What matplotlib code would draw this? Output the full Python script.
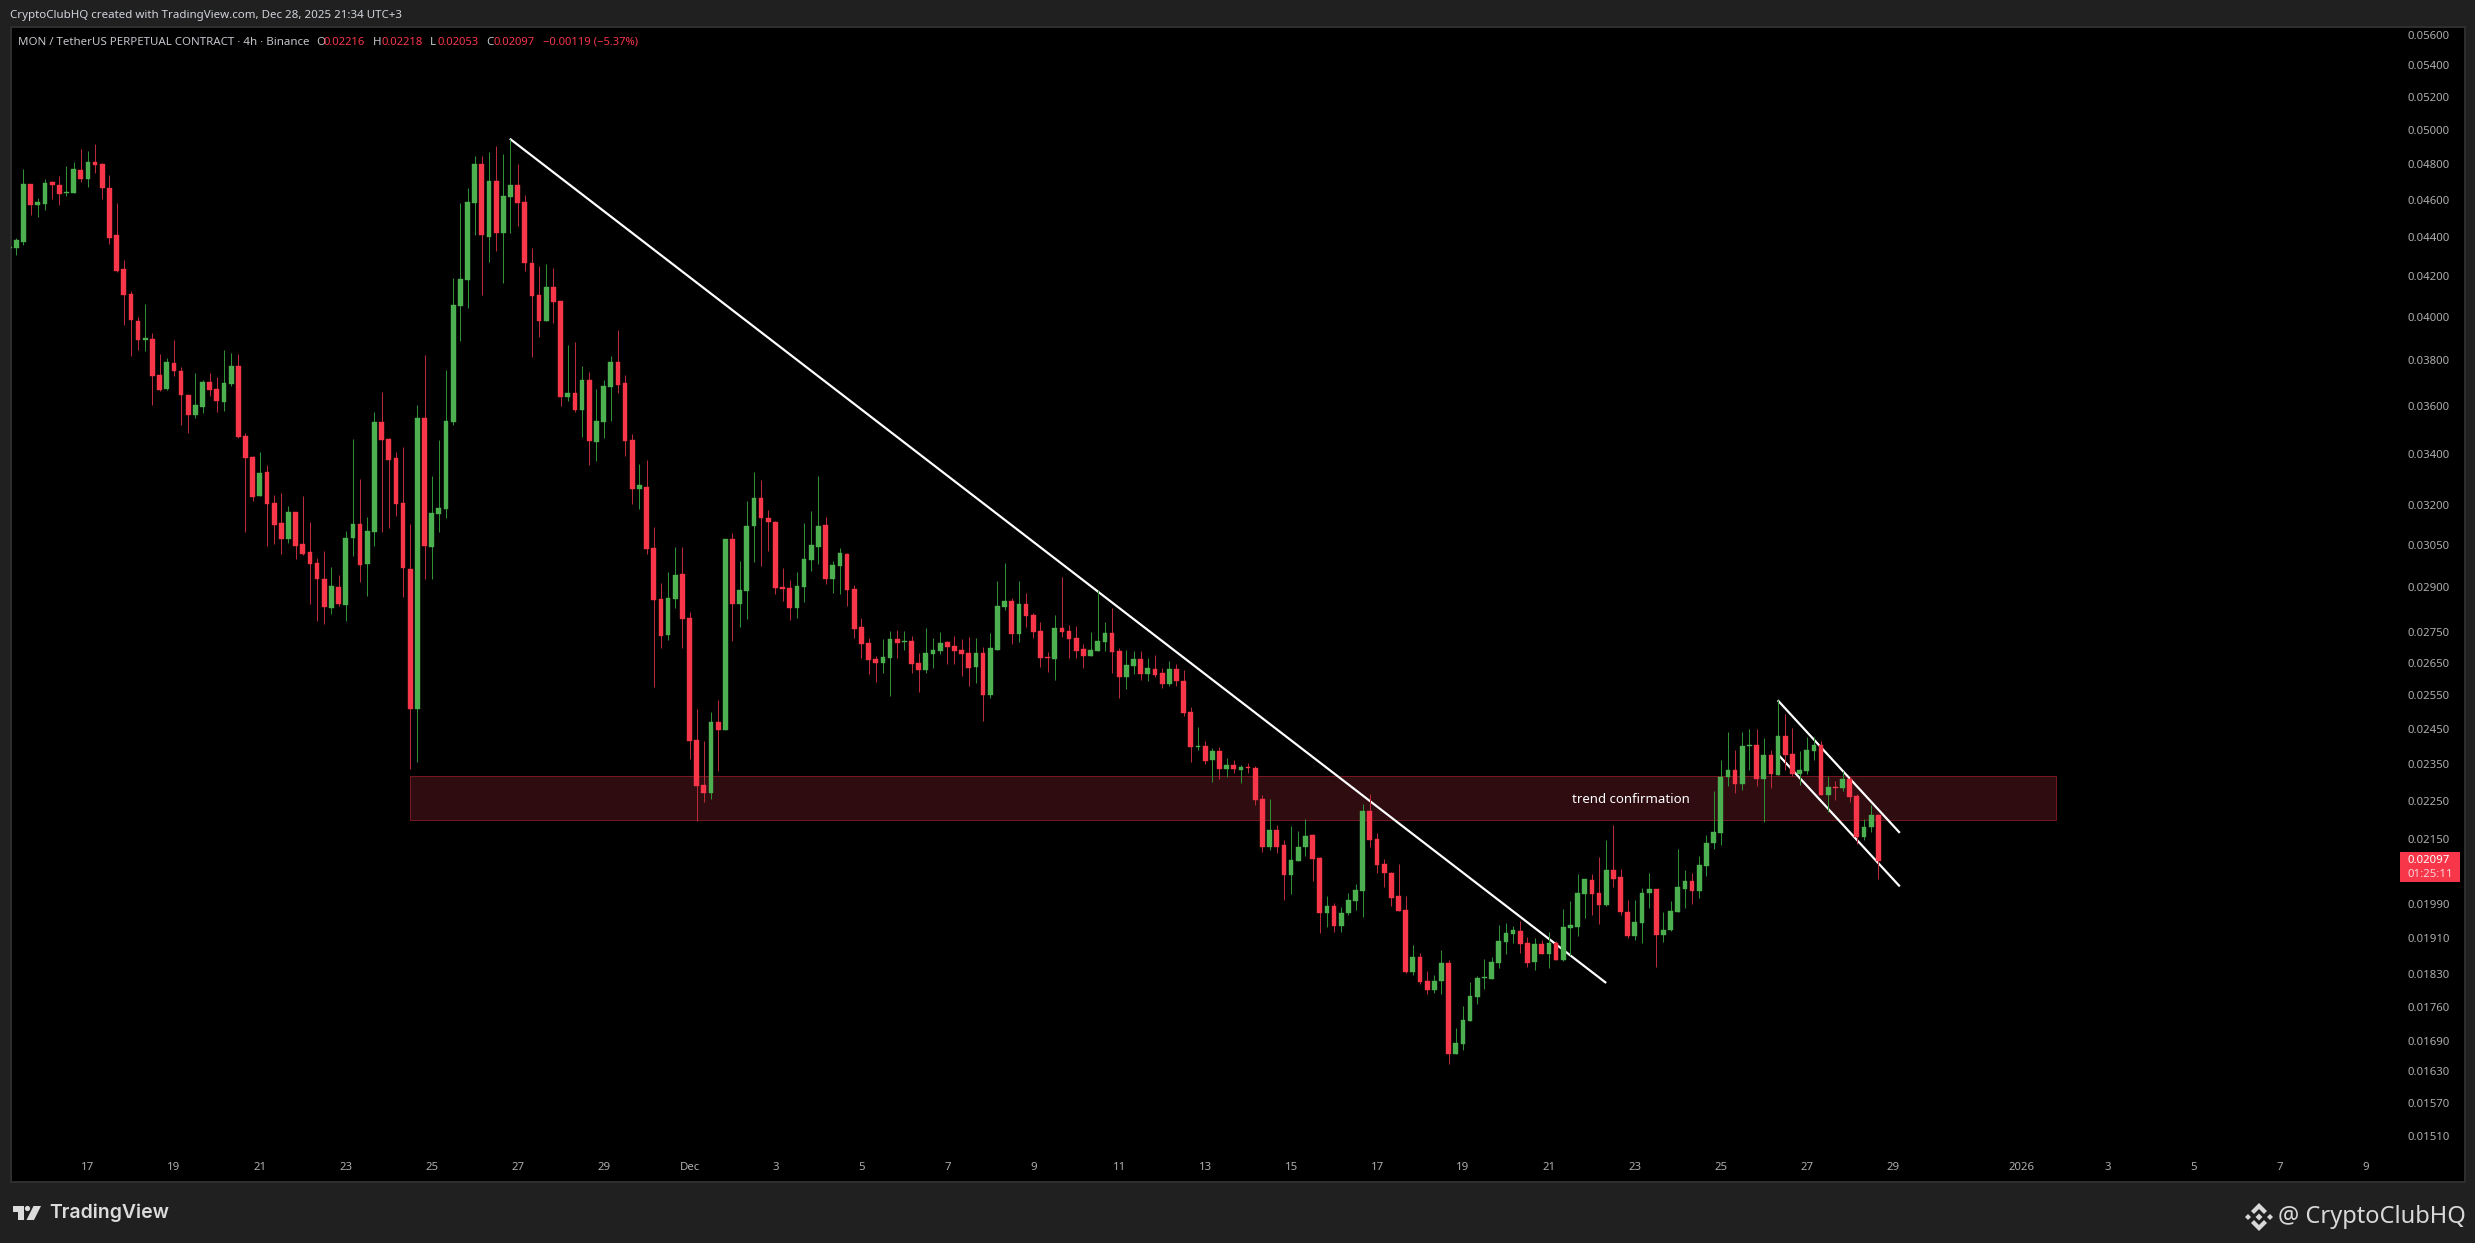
#!/usr/bin/env python3
"""MON/USDT perpetual 4h candles with hand drawn trendlines, TradingView dark style."""

import numpy as np
import matplotlib
matplotlib.use('Agg')
import matplotlib.pyplot as plt
from matplotlib.patches import Circle, Polygon, Rectangle
from matplotlib.ticker import NullLocator
from matplotlib.transforms import ScaledTranslation

# ── Data (prices in ticks of 0.00001) ────────────────────────────────────────

TICK = 0.00001

opens = [
  4352, 4353, 4385, 4698, 4581, 4587, 4710, 4693, 4648, 4648,
  4778, 4727, 4823, 4812, 4676, 4422, 4246, 4120, 3991, 3901,
  3906, 3742, 3679, 3796, 3760, 3653, 3568, 3602, 3711, 3679,
  3623, 3702, 3783, 3480, 3393, 3239, 3334, 3212, 3137, 3078,
  3178, 3059, 3030, 2991, 2935, 2835, 2907, 2845, 3082, 3133,
  2988, 3104, 3539, 3467, 3389, 3212, 2971, 2514, 3556, 3049,
  3172, 3190, 3539, 4062, 4191, 4591, 4812, 4411, 4711, 4432,
  4625, 4693, 4598, 4277, 4115, 3990, 4155, 4086, 3645, 3663,
  3590, 3720, 3455, 3539, 3688, 3800, 3706, 3464, 3266, 3276,
  3045, 2864, 2746, 2864, 2952, 2802, 2423, 2296, 2274, 2476,
  2452, 3078, 2850, 2892, 3124, 3231, 3154, 3142, 2906, 2903,
  2835, 2906, 3003, 3049, 3130, 2935, 2980, 3023, 2900, 2773,
  2718, 2667, 2655, 2671, 2732, 2722, 2726, 2655, 2634, 2684,
  2693, 2722, 2709, 2696, 2687, 2643, 2687, 2556, 2696, 2838,
  2858, 2749, 2848, 2811, 2759, 2674, 2668, 2769, 2759, 2735,
  2699, 2677, 2693, 2722, 2752, 2693, 2612, 2646, 2668, 2621,
  2637, 2624, 2590, 2637, 2599, 2505, 2402, 2405, 2365, 2390,
  2341, 2352, 2338, 2346, 2343, 2258, 2132, 2176, 2137, 2062,
  2097, 2132, 2163, 2104, 1971, 1987, 1941, 1971, 2001, 2023,
  2226, 2153, 2090, 2067, 2011, 1978, 1838, 1871, 1818, 1799,
  1818, 1858, 1666, 1686, 1734, 1784, 1825, 1823, 1858, 1904,
  1923, 1930, 1902, 1860, 1900, 1877, 1902, 1864, 1936, 1939,
  2016, 2050, 2018, 1990, 2074, 2059, 1973, 1918, 1948, 2018,
  2030, 1921, 1932, 1973, 2030, 2048, 2023, 2085, 2142, 2169,
  2318, 2338, 2299, 2405, 2408, 2312, 2379, 2324, 2434, 2382,
  2326, 2335, 2390, 2408, 2269, 2291, 2288, 2312, 2266, 2158,
  2183, 2216,
]
highs = [
  4360, 4404, 4783, 4698, 4617, 4725, 4715, 4744, 4800, 4823,
  4897, 4885, 4927, 4817, 4749, 4592, 4292, 4135, 4010, 4071,
  3935, 3836, 3818, 3901, 3778, 3653, 3751, 3720, 3751, 3733,
  3854, 3841, 3836, 3492, 3397, 3413, 3362, 3243, 3251, 3201,
  3178, 3239, 3141, 3009, 3033, 2977, 2949, 3107, 3465, 3306,
  3159, 3581, 3667, 3472, 3413, 3434, 3133, 3610, 3832, 3318,
  3464, 3764, 4200, 4591, 4676, 4858, 4858, 4881, 4914, 4868,
  4957, 4812, 4635, 4354, 4261, 4272, 4252, 4086, 3877, 3891,
  3782, 3756, 3680, 3720, 3828, 3945, 3742, 3488, 3366, 3382,
  3122, 2921, 2960, 3049, 3049, 2821, 2514, 2419, 2505, 2540,
  3078, 3100, 2999, 3220, 3334, 3302, 3186, 3145, 2974, 2932,
  2960, 3138, 3183, 3318, 3160, 2999, 3045, 3026, 2914, 2802,
  2737, 2677, 2732, 2759, 2762, 2759, 2742, 2687, 2769, 2735,
  2755, 2726, 2742, 2732, 2739, 2735, 2706, 2752, 2928, 2991,
  2868, 2928, 2886, 2818, 2788, 2690, 2811, 2942, 2778, 2775,
  2716, 2755, 2896, 2788, 2835, 2702, 2696, 2693, 2693, 2671,
  2680, 2640, 2662, 2652, 2634, 2519, 2461, 2419, 2399, 2402,
  2371, 2365, 2352, 2357, 2349, 2268, 2258, 2189, 2150, 2187,
  2174, 2205, 2166, 2107, 2013, 1996, 1985, 2018, 2040, 2245,
  2272, 2168, 2102, 2070, 2090, 2011, 1898, 1879, 1840, 1832,
  1886, 1864, 1719, 1765, 1816, 1829, 1867, 1871, 1943, 1948,
  1941, 1953, 1916, 1914, 1909, 1927, 1907, 1980, 1999, 2065,
  2052, 2065, 2107, 2150, 2189, 2077, 2003, 2003, 2031, 2067,
  2030, 1973, 1999, 2129, 2075, 2067, 2109, 2163, 2280, 2365,
  2446, 2393, 2446, 2455, 2455, 2428, 2393, 2540, 2499, 2458,
  2390, 2431, 2430, 2419, 2321, 2307, 2335, 2318, 2272, 2204,
  2242, 2218,
]
lows = [
  4350, 4317, 4369, 4528, 4517, 4555, 4614, 4581, 4631, 4648,
  4710, 4681, 4761, 4614, 4374, 4231, 3972, 3827, 3854, 3850,
  3610, 3671, 3675, 3738, 3526, 3492, 3555, 3576, 3649, 3581,
  3585, 3693, 3472, 3104, 3219, 3239, 3052, 3059, 3023, 3063,
  3005, 3019, 2848, 2792, 2782, 2815, 2841, 2792, 3016, 2925,
  2875, 3052, 3104, 3119, 3163, 2872, 2340, 2359, 2933, 2933,
  3105, 3155, 3524, 3898, 4052, 4418, 4115, 4281, 4337, 4175,
  4428, 4470, 4236, 3824, 3915, 3990, 3982, 3607, 3627, 3580,
  3475, 3362, 3378, 3471, 3543, 3663, 3398, 3208, 3190, 3023,
  2581, 2703, 2729, 2835, 2703, 2368, 2201, 2250, 2258, 2335,
  2452, 2725, 2773, 2799, 2995, 2980, 3034, 2883, 2858, 2795,
  2802, 2855, 2963, 2988, 2917, 2886, 2883, 2840, 2735, 2670,
  2620, 2597, 2624, 2552, 2671, 2696, 2624, 2565, 2624, 2640,
  2684, 2652, 2652, 2615, 2584, 2593, 2478, 2546, 2696, 2828,
  2716, 2722, 2772, 2735, 2643, 2627, 2602, 2739, 2671, 2671,
  2640, 2677, 2693, 2693, 2624, 2546, 2574, 2621, 2602, 2599,
  2612, 2577, 2584, 2584, 2493, 2360, 2393, 2354, 2305, 2313,
  2318, 2330, 2302, 2330, 2242, 2119, 2124, 2117, 2003, 2016,
  2097, 2109, 2048, 1925, 1939, 1927, 1927, 1966, 1978, 1962,
  2134, 2067, 2033, 1987, 1976, 1836, 1832, 1812, 1790, 1792,
  1790, 1647, 1666, 1674, 1734, 1769, 1801, 1823, 1847, 1877,
  1902, 1879, 1849, 1842, 1877, 1847, 1864, 1862, 1875, 1918,
  1959, 1966, 1946, 1987, 2033, 1966, 1914, 1909, 1902, 1983,
  1849, 1904, 1930, 1973, 1983, 1994, 2008, 2060, 2129, 2137,
  2293, 2274, 2283, 2338, 2293, 2197, 2287, 2324, 2338, 2321,
  2296, 2326, 2365, 2268, 2224, 2255, 2280, 2250, 2140, 2150,
  2171, 2053,
]
closes = [
  4358, 4395, 4698, 4581, 4597, 4704, 4693, 4642, 4653, 4783,
  4727, 4823, 4806, 4676, 4406, 4234, 4115, 3996, 3901, 3911,
  3738, 3675, 3800, 3760, 3653, 3568, 3610, 3711, 3675, 3627,
  3707, 3783, 3476, 3389, 3235, 3330, 3208, 3130, 3078, 3178,
  3052, 3023, 2988, 2935, 2838, 2910, 2848, 3082, 3133, 2984,
  3107, 3539, 3463, 3381, 3208, 2972, 2514, 3556, 3052, 3175,
  3193, 3543, 4067, 4195, 4598, 4812, 4418, 4716, 4428, 4630,
  4693, 4591, 4277, 4110, 3990, 4155, 4082, 3645, 3663, 3590,
  3720, 3458, 3543, 3694, 3800, 3698, 3458, 3266, 3282, 3040,
  2861, 2743, 2869, 2949, 2799, 2419, 2294, 2274, 2476, 2452,
  3078, 2850, 2896, 3127, 3231, 3154, 3142, 2903, 2900, 2835,
  2911, 3006, 3055, 3127, 2935, 2985, 3026, 2897, 2766, 2716,
  2664, 2654, 2674, 2732, 2719, 2726, 2652, 2634, 2687, 2696,
  2719, 2706, 2693, 2684, 2640, 2687, 2556, 2702, 2841, 2858,
  2749, 2848, 2808, 2755, 2671, 2671, 2769, 2755, 2732, 2693,
  2677, 2696, 2726, 2752, 2690, 2612, 2649, 2668, 2621, 2640,
  2618, 2590, 2637, 2599, 2502, 2402, 2405, 2363, 2390, 2341,
  2352, 2341, 2346, 2344, 2255, 2132, 2176, 2132, 2062, 2099,
  2134, 2161, 2102, 1971, 1987, 1941, 1971, 2003, 2026, 2226,
  2150, 2087, 2067, 2008, 1976, 1838, 1871, 1816, 1799, 1818,
  1858, 1666, 1688, 1736, 1786, 1825, 1827, 1860, 1906, 1925,
  1932, 1900, 1858, 1900, 1877, 1902, 1864, 1939, 1943, 2018,
  2052, 2016, 1990, 2074, 2054, 1973, 1918, 1950, 2020, 2030,
  1921, 1932, 1976, 2033, 2048, 2023, 2087, 2142, 2171, 2318,
  2338, 2299, 2405, 2408, 2312, 2379, 2326, 2434, 2379, 2326,
  2338, 2393, 2408, 2268, 2291, 2288, 2312, 2263, 2158, 2185,
  2215, 2097,
]

y_tick_prices = [
  0.05600, 0.05400, 0.05200, 0.05000, 0.04800, 0.04600, 0.04400, 0.04200,
  0.04000, 0.03800, 0.03600, 0.03400, 0.03200, 0.03050, 0.02900, 0.02750,
  0.02650, 0.02550, 0.02450, 0.02350, 0.02250, 0.02150, 0.01990, 0.01910,
  0.01830, 0.01760, 0.01690, 0.01630, 0.01570, 0.01510,
]

date_ticks = [11, 23, 35, 47, 59, 71, 83, 95, 107, 119, 131, 143, 155, 167,
              179, 191, 203, 215, 227, 239, 251, 263, 281, 293, 305, 317, 329]
date_labels = ['17', '19', '21', '23', '25', '27', '29', 'Dec', '3', '5', '7', '9', '11', '13',
               '15', '17', '19', '21', '23', '25', '27', '29', '2026', '3', '5', '7', '9']

# drawings: (bar index, price) end points
main_trend_x, main_trend_y = [69.9, 223.0], [0.04957, 0.01814]
channel_top_x, channel_top_y = [246.95, 264.0], [0.02540, 0.02169]
channel_low_x, channel_low_y = [247.1, 264.0], [0.02379, 0.02035]
zone_x = [56.0, 285.8]
zone_y = [0.02202, 0.02320]

last_price = 0.02097

# ── Style ────────────────────────────────────────────────────────────────────

W, H = 2475, 1243
PANEL = (10.5, 27, 2465, 1182)  # left, top, right, bottom in pixels

BG = '#202020'
BORDER = '#2e2e2e'
UP, DOWN = '#4caf50', '#f7364a'
UP_WICK, DOWN_WICK = '#2f8f37', '#b92a3a'
AXIS_TEXT = '#aeaeae'
FONT = 'Noto Sans'


def px(v):
  return v * 72 / 100


fig = plt.figure(figsize=(W / 100, H / 100), dpi=100, facecolor=BG)

# chart panel
left, top, right, bottom = PANEL
ax = fig.add_axes([left / W, 1 - bottom / H, (right - left) / W, (bottom - top) / H], facecolor='black')
ax.set_yscale('log')
ax.set_xlim(0.186, 342.92)
ax.set_ylim(0.014313, 0.05662)
for s in ax.spines.values():
  s.set_color(BORDER)
  s.set_linewidth(px(2))

# zone and trendlines sit below the candles
ax.add_patch(Rectangle((zone_x[0], zone_y[0]), zone_x[1] - zone_x[0], zone_y[1] - zone_y[0],
                       facecolor='#2e0c10', edgecolor='#731820', linewidth=px(1), zorder=1))
for xs, ys in [(main_trend_x, main_trend_y), (channel_top_x, channel_top_y), (channel_low_x, channel_low_y)]:
  ax.plot(xs, ys, color='white', lw=px(2.2), solid_capstyle='butt', zorder=2)

# candles
o = np.array(opens) * TICK
h = np.array(highs) * TICK
l = np.array(lows) * TICK
c = np.array(closes) * TICK
idx = np.arange(len(o))
up = c >= o
ax.vlines(idx[up], l[up], h[up], color=UP_WICK, lw=px(1), zorder=3)
ax.vlines(idx[~up], l[~up], h[~up], color=DOWN_WICK, lw=px(1), zorder=3)
ax.bar(idx[up], (c - o)[up], bottom=o[up], width=0.66, color=UP, edgecolor=UP, linewidth=0.3, zorder=4)
ax.bar(idx[~up], (o - c)[~up], bottom=c[~up], width=0.66, color=DOWN, edgecolor=DOWN, linewidth=0.3, zorder=4)

ax.text(226.5, 0.02258, 'trend confirmation', color='white', fontsize=9.5, family=FONT,
        ha='center', va='center', zorder=5)

# axes labels live inside the black panel
ax.yaxis.tick_right()
ax.yaxis.set_minor_locator(NullLocator())
ax.set_yticks(y_tick_prices)
ax.set_yticklabels([f'{p:.5f}' for p in y_tick_prices], family=FONT, fontsize=8.2, color=AXIS_TEXT, ha='left')
ax.tick_params(axis='y', which='both', length=0, pad=-px(57))
lift = ScaledTranslation(0, px(1.5) / 72, fig.dpi_scale_trans)
for t in ax.get_yticklabels():
  t.set_transform(t.get_transform() + lift)

ax.set_xticks(date_ticks)
ax.set_xticklabels(date_labels, family=FONT, fontsize=8.2, color=AXIS_TEXT)
ax.tick_params(axis='x', length=0, pad=-px(20))

# ── Chrome: header, legend, price tag, footer (pixel coordinates) ────────────

ov = fig.add_axes([0, 0, 1, 1], facecolor='none')
ov.set_xlim(0, W)
ov.set_ylim(H, 0)
ov.axis('off')


def label(x, y, s, color='#d1d4dc', size=8.3, **kw):
  ov.text(x, y, s, color=color, fontsize=size, family=kw.pop('family', FONT), va='center', **kw)


label(10, 15, 'CryptoClubHQ created with TradingView.com, Dec 28, 2025 21:34 UTC+3')
label(18, 42, 'MON / TetherUS PERPETUAL CONTRACT · 4h · Binance', color='#c4c6cc')
for x, s in [(316, 'O'), (373, 'H'), (430, 'L'), (486, 'C')]:
  label(x, 42, s, color='#c4c6cc')
for x, s in [(324, '0.02216'), (382, '0.02218'), (437, '0.02053'), (494, '0.02097'),
             (543, '−0.00119 (−5.37%)')]:
  label(x, 42, s, color=DOWN, size=8.1)

# last price tag
ov.add_patch(Rectangle((2400, 852), 60, 30, facecolor=DOWN, edgecolor='none'))
label(2408, 860, f'{last_price:.5f}', color='white', size=8.2, fontweight='bold')
label(2408, 874, '01:25:11', color='#f5d5d9', size=8.2)

# TradingView mark
MARK = '#dcdcdc'
ov.add_patch(Polygon([(12.5, 1206), (24, 1206), (24, 1220), (18, 1220), (18, 1212), (12.5, 1212)], facecolor=MARK))
ov.add_patch(Circle((27.5, 1208.5), 2.6, facecolor=MARK))
ov.add_patch(Polygon([(33.5, 1206), (41, 1206), (34, 1220), (26.5, 1220)], facecolor=MARK))
label(49, 1213, 'TradingView', color=MARK, size=14, family='Inter', fontweight='semibold')

# Binance mark
cx, cy = 2259, 1217
logo = '#d8d8d8'
ov.add_patch(Polygon([(cx, cy - 14), (cx + 8, cy - 6), (cx + 5, cy - 3), (cx, cy - 8), (cx - 5, cy - 3), (cx - 8, cy - 6)], facecolor=logo))
ov.add_patch(Polygon([(cx, cy + 14), (cx + 8, cy + 6), (cx + 5, cy + 3), (cx, cy + 8), (cx - 5, cy + 3), (cx - 8, cy + 6)], facecolor=logo))
ov.add_patch(Polygon([(cx, cy - 3.5), (cx + 3.5, cy), (cx, cy + 3.5), (cx - 3.5, cy)], facecolor=logo))
for dx in (-11, 11):
  ov.add_patch(Polygon([(cx + dx, cy - 3), (cx + dx + 3, cy), (cx + dx, cy + 3), (cx + dx - 3, cy)], facecolor=logo))
label(2466, 1217, '@ CryptoClubHQ', color='#d8d8d8', size=17, ha='right')

fig.savefig('out.png', dpi=100, facecolor=BG)
